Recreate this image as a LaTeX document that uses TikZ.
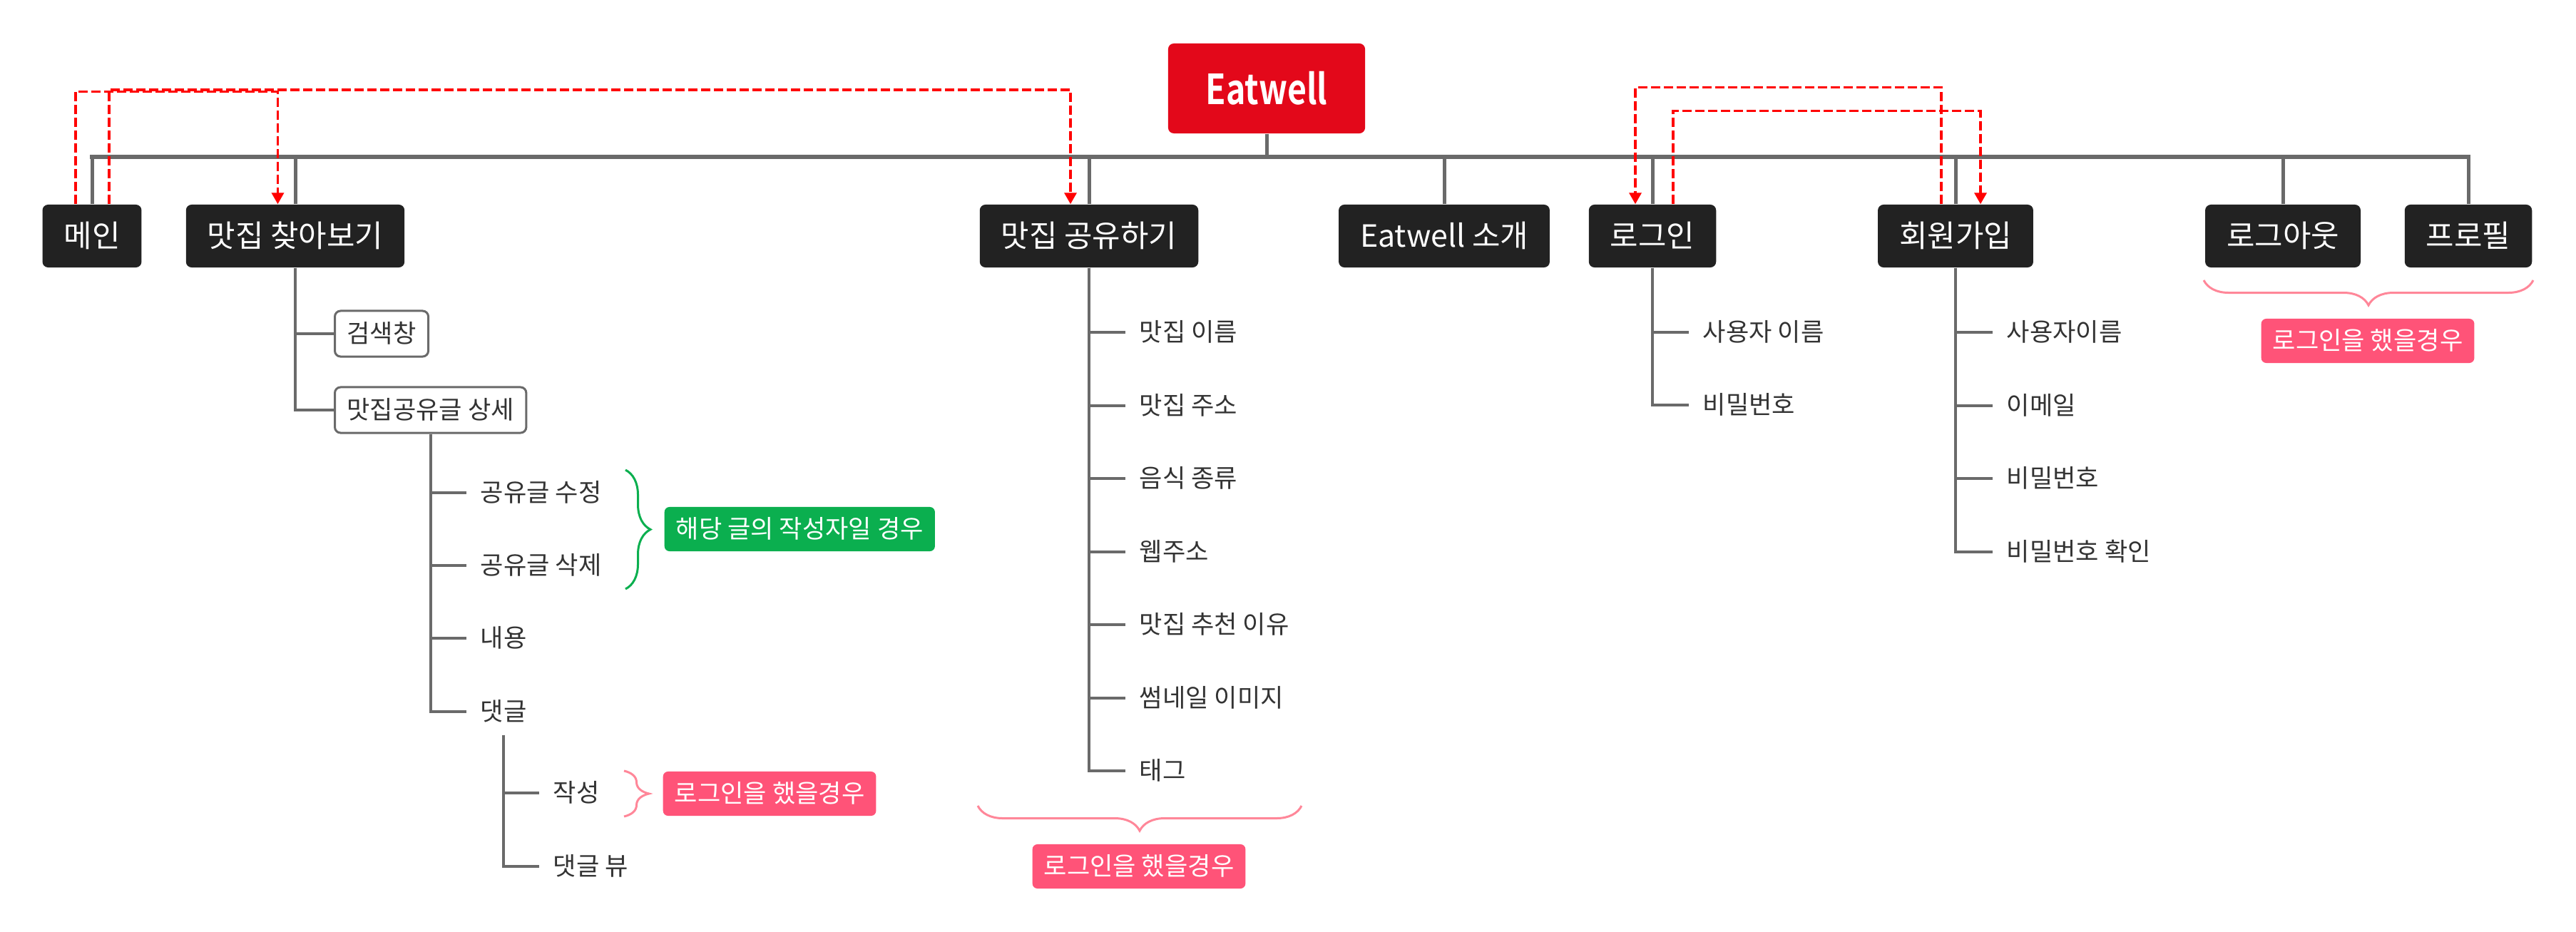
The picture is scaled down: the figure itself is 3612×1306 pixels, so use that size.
\documentclass[tikz,border=0pt]{standalone}
\usepackage{fontspec}
\setmainfont{Noto Sans CJK KR}
\newfontfamily\rootfont{Noto Sans CJK KR Bold}[FakeStretch=0.8]
\usetikzlibrary{arrows.meta,decorations.pathreplacing}
\definecolor{boxdark}{HTML}{222222}
\definecolor{rootred}{HTML}{E3081A}
\definecolor{linegrey}{HTML}{6A6A6A}
\definecolor{leafgrey}{HTML}{333333}
\definecolor{jumpred}{HTML}{FF0000}
\definecolor{notegreen}{HTML}{0BAF4F}
\definecolor{notepink}{HTML}{FF5378}
\definecolor{bracepink}{HTML}{FF8799}
\tikzset{
  rootbox/.style={fill=rootred, text=white, rounded corners=.08cm, minimum width=2.76cm, minimum height=1.26cm, font=\fontsize{16.5}{19}\rootfont},
  menubox/.style={fill=boxdark, text=white, rounded corners=.08cm, minimum height=.88cm, inner xsep=.30cm, text height=.34cm, text depth=.03cm, font=\fontsize{12.2}{14}\selectfont},
  subbox/.style={draw=linegrey, line width=.03cm, fill=white, text=leafgrey, rounded corners=.08cm, minimum height=.64cm, inner xsep=.17cm, text height=.28cm, text depth=.024cm, font=\fontsize{10}{12}\selectfont},
  leaf/.style={text=leafgrey, anchor=west, inner xsep=.19cm, text height=.28cm, text depth=.024cm, font=\fontsize{10}{12}\selectfont},
  note/.style={fill=#1, text=white, rounded corners=.07cm, minimum height=.62cm, inner xsep=.16cm, text height=.28cm, text depth=.024cm, font=\fontsize{10}{12}\selectfont},
  bus/.style={draw=linegrey, line width=.065cm, line cap=rect},
  branch/.style={draw=linegrey, line width=.05cm},
  twig/.style={draw=linegrey, line width=.04cm},
  jump/.style={draw=jumpred, line width=.035cm, dash pattern=on .13cm off .05cm, ->},
  curly/.style={draw=#1, line width=.03cm, decorate, decoration={brace, amplitude=.35cm}},
}

\begin{document}
\begin{tikzpicture}[x=.01cm, y=-.01cm, >={Triangle[width=.17cm,length=.16cm]}]
    \useasboundingbox (0,0) rectangle (3612,1306);
    % top menu
    \node[rootbox] (root) at (1776,124) {Eatwell};
    \coordinate (bus) at (1776,220);
    \node[menubox] (main) at (129,331) {메인};
    \node[menubox] (find) at (414,331) {맛집 찾아보기};
    \node[menubox] (share) at (1527,331) {맛집 공유하기};
    \node[menubox] (about) at (2025,331) {Eatwell 소개};
    \node[menubox] (login) at (2317,331) {로그인};
    \node[menubox] (join) at (2742,331) {회원가입};
    \node[menubox] (logout) at (3201,331) {로그아웃};
    \node[menubox] (profile) at (3461,331) {프로필};
    \draw[branch] (root.south) -- (bus);
    \draw[bus] (main.north |- bus) -- (profile.north |- bus);
    \draw[branch] (main.north) -- (main.north |- bus);
    \draw[branch] (find.north) -- (find.north |- bus);
    \draw[branch] (share.north) -- (share.north |- bus);
    \draw[branch] (about.north) -- (about.north |- bus);
    \draw[branch] (login.north) -- (login.north |- bus);
    \draw[branch] (join.north) -- (join.north |- bus);
    \draw[branch] (logout.north) -- (logout.north |- bus);
    \draw[branch] (profile.north) -- (profile.north |- bus);

    % page jumps
    \draw[jump] ([xshift=-.23cm]main.north) -- ++(0,-158) -| ([xshift=-.245cm]find.north);
    \draw[jump] ([xshift=.24cm]main.north) -- ++(0,-160.5) -| ([xshift=-.26cm]share.north);
    \draw[jump] ([xshift=-.2cm]join.north) -- ++(0,-164) -| ([xshift=-.24cm]login.north);
    \draw[jump] ([xshift=.29cm]login.north) -- ++(0,-131) -| ([xshift=.35cm]join.north);

    % find
    \node[subbox, anchor=west] (search) at (468,468) {검색창};
    \node[subbox, anchor=west] (detail) at (468,575) {맛집공유글 상세};
    \draw[twig] (find.south) |- (search.west);
    \draw[twig] (find.south) |- (detail.west);
    \node[leaf] (edit) at (654,691) {공유글 수정};
    \node[leaf] (delete) at (654,793) {공유글 삭제};
    \node[leaf] (body) at (654,895) {내용};
    \node[leaf] (comment) at (654,998) {댓글};
    \draw[twig] (detail.south) |- (edit.west);
    \draw[twig] (detail.south) |- (delete.west);
    \draw[twig] (detail.south) |- (body.west);
    \draw[twig] (detail.south) |- (comment.west);
    \node[leaf] (write) at (756,1112) {작성};
    \node[leaf] (view) at (756,1215) {댓글 뷰};
    \draw[twig] ([yshift=-.05cm]comment.south) |- (write.west);
    \draw[twig] ([yshift=-.05cm]comment.south) |- (view.west);
    \draw[curly=notegreen] (877,659) -- (877,826);
    \node[note=notegreen, anchor=west] (ownernote) at (931,742) {해당 글의 작성자일 경우};
    \draw[curly=bracepink] (875,1081) -- (875,1145);
    \node[note=notepink, anchor=west] (writenote) at (929,1113) {로그인을 했을경우};

    % share
    \node[leaf] (sharename) at (1578,466) {맛집 이름};
    \node[leaf] (shareaddr) at (1578,568.5) {맛집 주소};
    \node[leaf] (sharefood) at (1578,671) {음식 종류};
    \node[leaf] (shareweb) at (1578,773.5) {웹주소};
    \node[leaf] (sharewhy) at (1578,876) {맛집 추천 이유};
    \node[leaf] (shareimg) at (1578,978.5) {썸네일 이미지};
    \node[leaf] (sharetag) at (1578,1081) {태그};
    \draw[twig] (share.south) |- (sharename.west);
    \draw[twig] (share.south) |- (shareaddr.west);
    \draw[twig] (share.south) |- (sharefood.west);
    \draw[twig] (share.south) |- (shareweb.west);
    \draw[twig] (share.south) |- (sharewhy.west);
    \draw[twig] (share.south) |- (shareimg.west);
    \draw[twig] (share.south) |- (sharetag.west);
    \draw[curly=bracepink] (1825,1130) -- (1371,1130);
    \node[note=notepink] (sharenote) at (1597,1215) {로그인을 했을경우};

    % login, join
    \node[leaf] (loginname) at (2368,466) {사용자 이름};
    \node[leaf] (loginpw) at (2368,568) {비밀번호};
    \draw[twig] (login.south) |- (loginname.west);
    \draw[twig] (login.south) |- (loginpw.west);
    \node[leaf] (joinname) at (2794,466) {사용자이름};
    \node[leaf] (joinmail) at (2794,568.5) {이메일};
    \node[leaf] (joinpw) at (2794,671) {비밀번호};
    \node[leaf] (joincheck) at (2794,773.5) {비밀번호 확인};
    \draw[twig] (join.south) |- (joinname.west);
    \draw[twig] (join.south) |- (joinmail.west);
    \draw[twig] (join.south) |- (joinpw.west);
    \draw[twig] (join.south) |- (joincheck.west);

    % logout, profile
    \draw[curly=bracepink] (3552,393) -- (3090,393);
    \node[note=notepink] (menunote) at (3320,478) {로그인을 했을경우};
\end{tikzpicture}
\end{document}
